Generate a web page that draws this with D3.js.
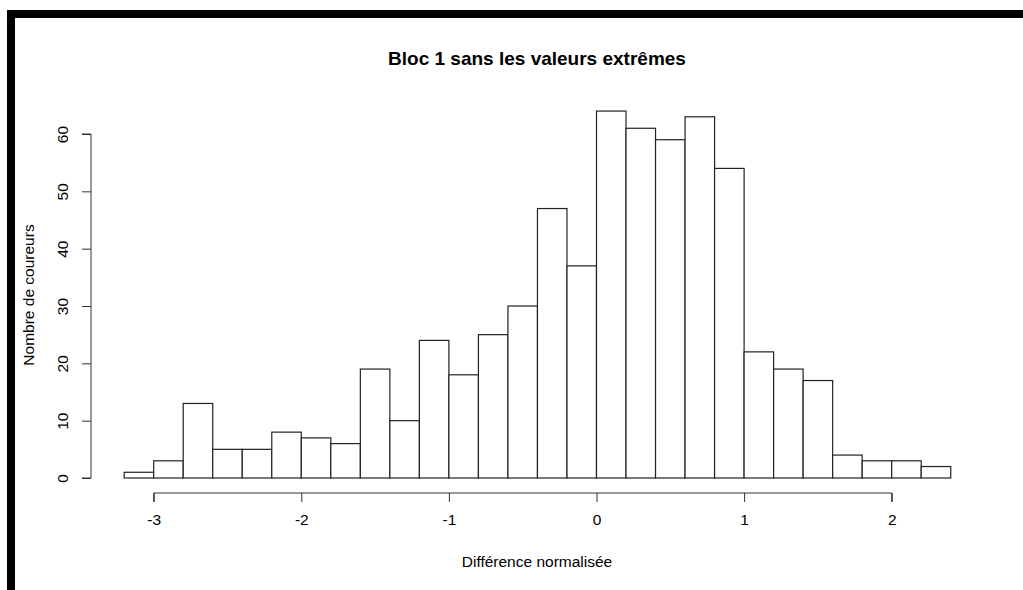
<!DOCTYPE html>
<html><head><meta charset="utf-8">
<script src="https://cdn.jsdelivr.net/npm/d3@7"></script>
<style>body{margin:0;background:#fff}svg{display:block}text{font-family:"Liberation Sans",Arial,sans-serif;fill:#000}</style>
</head><body>
<svg id="c" width="1023" height="590"></svg>
<script>
const binStarts = [-3.2,-3.0,-2.8,-2.6,-2.4,-2.2,-2.0,-1.8,-1.6,-1.4,-1.2,-1.0,-0.8,-0.6,-0.4,-0.2,0.0,0.2,0.4,0.6,0.8,1.0,1.2,1.4,1.6,1.8,2.0,2.2];
const counts = [1,3,13,5,5,8,7,6,19,10,24,18,25,30,47,37,64,61,59,63,54,22,19,17,4,3,3,2];
const binWidth = 0.2;
const xTicks = [-3,-2,-1,0,1,2];
const xTickLabels = ["-3","-2","-1","0","1","2"];
const yTicks = [0,10,20,30,40,50,60];
const title = "Bloc 1 sans les valeurs extrêmes";
const xTitle = "Différence normalisée";
const yTitle = "Nombre de coureurs";

const svg = d3.select("#c");
// frame borders
svg.append("rect").attr("x",7).attr("y",10).attr("width",1016).attr("height",8).attr("fill","#000");
svg.append("rect").attr("x",7).attr("y",10).attr("width",8).attr("height",580).attr("fill","#000");

const x = d3.scaleLinear().domain([-3,2]).range([153.7,891.7]);
const y = d3.scaleLinear().domain([0,60]).range([478,134]);

const g = svg.append("g");
g.selectAll("rect.bar").data(counts).join("rect").attr("class","bar")
  .attr("x",(d,i)=>x(binStarts[i]))
  .attr("y",d=>y(d))
  .attr("width",(d,i)=>x(binStarts[i]+binWidth)-x(binStarts[i]))
  .attr("height",d=>y(0)-y(d))
  .attr("fill","#fff").attr("stroke","#222").attr("stroke-width",1.2);

// x axis
const xa = svg.append("g").attr("transform","translate(0,493)")
  .call(d3.axisBottom(x).tickValues(xTicks).tickSize(9).tickPadding(12).tickFormat((d,i)=>xTickLabels[i]));
xa.select(".domain").attr("stroke","#333").attr("d",`M${x(-3)},9V0H${x(2)}V9`);
xa.selectAll(".tick line").attr("stroke","#333");
xa.selectAll(".tick text").attr("font-size",15.5).attr("font-family","Liberation Sans, Arial, sans-serif").attr("fill","#000");

// y axis
const ya = svg.append("g").attr("transform","translate(91,0)")
  .call(d3.axisLeft(y).tickValues(yTicks).tickSize(9).tickPadding(0).tickFormat(d3.format("d")));
ya.select(".domain").attr("stroke","#333").attr("d",`M-9,${y(0)}H0V${y(60)}H-9`);
ya.selectAll(".tick line").attr("stroke","#333");
ya.selectAll(".tick text").attr("font-size",15.5).attr("font-family","Liberation Sans, Arial, sans-serif").attr("fill","#000")
  .attr("x",null).attr("dy",null)
  .attr("text-anchor","middle")
  .attr("transform","translate(-28,0) rotate(-90)")
  .attr("dy","0.35em");

svg.append("text").attr("x",537).attr("y",65).attr("text-anchor","middle")
  .attr("font-size",19).attr("font-weight","bold").text(title);
svg.append("text").attr("x",537).attr("y",567).attr("text-anchor","middle")
  .attr("font-size",15.5).text(xTitle);
svg.append("text").attr("transform","translate(34,295) rotate(-90)").attr("text-anchor","middle")
  .attr("font-size",15.5).text(yTitle);
</script>
</body></html>
